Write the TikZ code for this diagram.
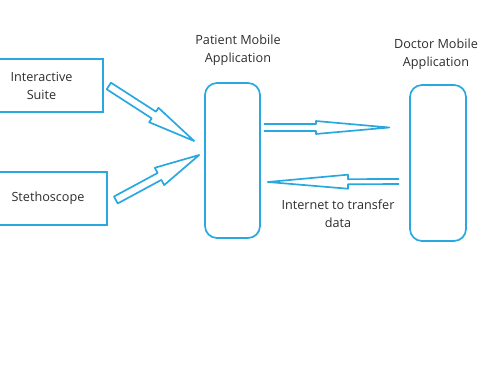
\documentclass[tikz,border=0pt]{standalone}
\usepackage{fontspec}
\setmainfont{Open Sans}
\usetikzlibrary{calc}

\definecolor{lineblue}{RGB}{41,168,224}
\definecolor{txtgray}{RGB}{45,45,45}

\tikzset{
  flow/.style={draw=lineblue, line width=1.2pt, line join=round},
  inbox/.style={draw=lineblue, line width=1.2pt, align=center, inner sep=0pt,
    text=txtgray, font=\fontsize{9}{12.8}\selectfont},
  appbox/.style={draw=lineblue, line width=1.2pt, rounded corners=3mm, inner sep=0pt},
  caption/.style={align=center, text=txtgray, font=\fontsize{9}{12.8}\selectfont}
}

% hollow block arrow: [end] {tail} {tip} {shaft half width} {head half width} {head length}
\newcommand{\blockarrow}[6][-- cycle]{%
  \draw[flow] let \p1=($(#3)-(#2)$), \n1={atan2(\y1,\x1)}, \n2={veclen(\x1,\y1)} in
    ($(#2)+(\n1+90:#4)$) -- ($(#2)+(\n1:\n2-#6)+(\n1+90:#4)$)
    -- ($(#2)+(\n1:\n2-#6)+(\n1+90:#5)$) -- (#3)
    -- ($(#2)+(\n1:\n2-#6)+(\n1-90:#5)$) -- ($(#2)+(\n1:\n2-#6)+(\n1-90:#4)$)
    -- ($(#2)+(\n1-90:#4)$) #1;}

\begin{document}
\begin{tikzpicture}[x=0.25mm, y=-0.25mm]
  \useasboundingbox (0,0) rectangle (500,375);
  \clip (0,0) rectangle (500,375);

  % input devices
  \node[inbox, minimum width=30.75mm, minimum height=13.25mm] (suite) at (41.5,85.5) {Interactive\\Suite};
  \node[inbox, minimum width=29.5mm, minimum height=13.25mm] (steth) at (48,198.5) {Stethoscope};

  % mobile applications
  \node[appbox, minimum width=13.75mm, minimum height=38.75mm] (patient) at (232.5,160.5) {};
  \node[appbox, minimum width=14mm, minimum height=39mm] (doctor) at (438,163) {};
  \node[caption] (patient-lbl) at (238,50) {Patient Mobile\\Application};
  \node[caption] (doctor-lbl) at (436,54) {Doctor Mobile\\Application};
  \node[caption] (net-lbl) at (338,214) {Internet to transfer\\data};

  % arrow end points
  \coordinate (suite-out) at ($(suite.east)+(5,0.5)$);
  \coordinate (suite-in) at ($(patient.west)+(-10,-19.5)$);
  \coordinate (steth-out) at ($(steth.east)+(8,1.5)$);
  \coordinate (steth-in) at ($(patient.west)+(-5,-5.5)$);
  \coordinate (send-out) at ($(patient.east)+(3,-33)$);
  \coordinate (send-in) at ($(doctor.west)+(-20,-35.5)$);
  \coordinate (reply-out) at ($(doctor.west)+(-10,18.5)$);
  \coordinate (reply-in) at ($(patient.east)+(7,21.5)$);

  % arrows
  \blockarrow{suite-out}{suite-in}{2.8pt}{6.1pt}{34pt}
  \blockarrow{steth-out}{steth-in}{2.8pt}{7pt}{32pt}
  \blockarrow[]{send-out}{send-in}{2.5pt}{4.6pt}{52pt}
  \blockarrow[]{reply-out}{reply-in}{1.8pt}{5pt}{57pt}
\end{tikzpicture}
\end{document}
